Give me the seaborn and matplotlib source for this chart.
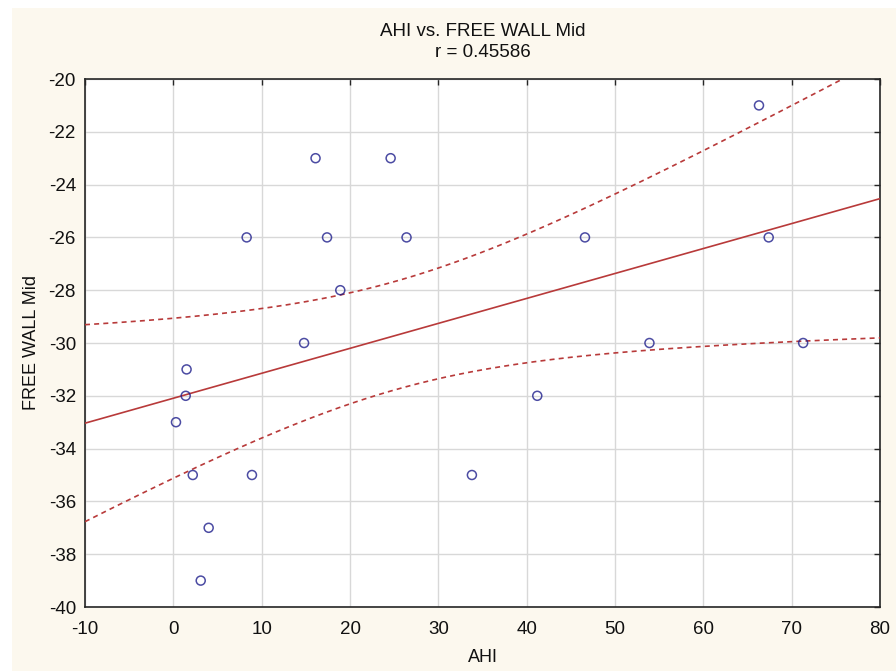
import numpy as np
import pandas as pd
import seaborn as sns
import matplotlib.pyplot as plt
from matplotlib.patches import Rectangle

# values
ahi = [8.3, 16.1, 24.6, 17.4, 26.4, 18.9, 14.8, 1.5, 1.4, 0.3, 2.2,
       8.9, 4.0, 3.1, 33.8, 41.2, 46.6, 53.9, 66.3, 67.4, 71.3]
free_wall_mid = [-26, -23, -23, -26, -26, -28, -30, -31, -32, -33, -35,
                 -35, -37, -39, -35, -32, -26, -30, -21, -26, -30]
x_ticks = [-10, 0, 10, 20, 30, 40, 50, 60, 70, 80]
y_ticks = [-40, -38, -36, -34, -32, -30, -28, -26, -24, -22, -20]
r_label = 'r = 0.45586'

df = pd.DataFrame({'AHI': ahi, 'FREE WALL Mid': free_wall_mid})

sns.set_theme(style='whitegrid')
plt.rcParams['font.family'] = ['Liberation Sans', 'DejaVu Sans']
plt.rcParams['axes.unicode_minus'] = False

cream = '#fcf8ee'
line_red = '#b83a3a'

fig = plt.figure(figsize=(8.96, 6.71), dpi=100, facecolor='white')
fig.patches.append(Rectangle((12 / 896, 0), 1, 1 - 8 / 671, transform=fig.transFigure,
                             facecolor=cream, edgecolor='none', zorder=-10))
ax = fig.add_axes([85 / 896, 1 - 607 / 671, 795 / 896, 528 / 671])
ax.set_facecolor('white')
ax.set_xlim(-10, 80)
ax.set_ylim(-40, -20)

# scatter + fitted line through seaborn
sns.regplot(data=df, x='AHI', y='FREE WALL Mid', ax=ax, ci=None, truncate=False,
            scatter_kws=dict(s=42, facecolors='none', edgecolors='#1f1f8c', linewidths=1.1, zorder=4),
            line_kws=dict(color=line_red, lw=1.2, zorder=3))

# 95% confidence band of the regression (dashed), computed from the data
x = np.asarray(ahi, dtype=float)
y = np.asarray(free_wall_mid, dtype=float)
n = len(x)
b1, b0 = np.polyfit(x, y, 1)
resid = y - (b0 + b1 * x)
s = np.sqrt(np.sum(resid ** 2) / (n - 2))
t_val = 2.093  # t(0.975, df=19)
xs = np.linspace(-10, 80, 300)
se = s * np.sqrt(1 / n + (xs - x.mean()) ** 2 / np.sum((x - x.mean()) ** 2))
fit = b0 + b1 * xs
ax.plot(xs, fit + t_val * se, color=line_red, lw=1.2, ls=(0, (3, 2.5)), zorder=3)
ax.plot(xs, fit - t_val * se, color=line_red, lw=1.2, ls=(0, (3, 2.5)), zorder=3)

ax.set_xlim(-10, 80)
ax.set_ylim(-40, -20)
ax.set_xticks(x_ticks)
ax.set_yticks(y_ticks)
ax.grid(True, color='#d8d8d8', lw=1)
for side in ['left', 'right', 'top', 'bottom']:
    ax.spines[side].set_visible(True)
    ax.spines[side].set_color('#262626')
    ax.spines[side].set_linewidth(1.2)
ax.tick_params(direction='in', length=4, width=1, color='#262626',
               top=True, right=True, labelsize=13.5, labelcolor='#111111')
ax.tick_params(axis='x', pad=10)
ax.tick_params(axis='y', pad=6.5)

ax.set_xlabel('AHI', fontsize=13, color='#111111', labelpad=8)
ax.set_ylabel('FREE WALL Mid', fontsize=13, color='#111111', labelpad=6)
ax.set_title('AHI vs. FREE WALL Mid\n' + r_label, fontsize=13.5, color='#111111',
             linespacing=1.3, pad=16)

print('r =', np.corrcoef(x, y)[0, 1])
fig.savefig('out.png', dpi=100, facecolor='white')
